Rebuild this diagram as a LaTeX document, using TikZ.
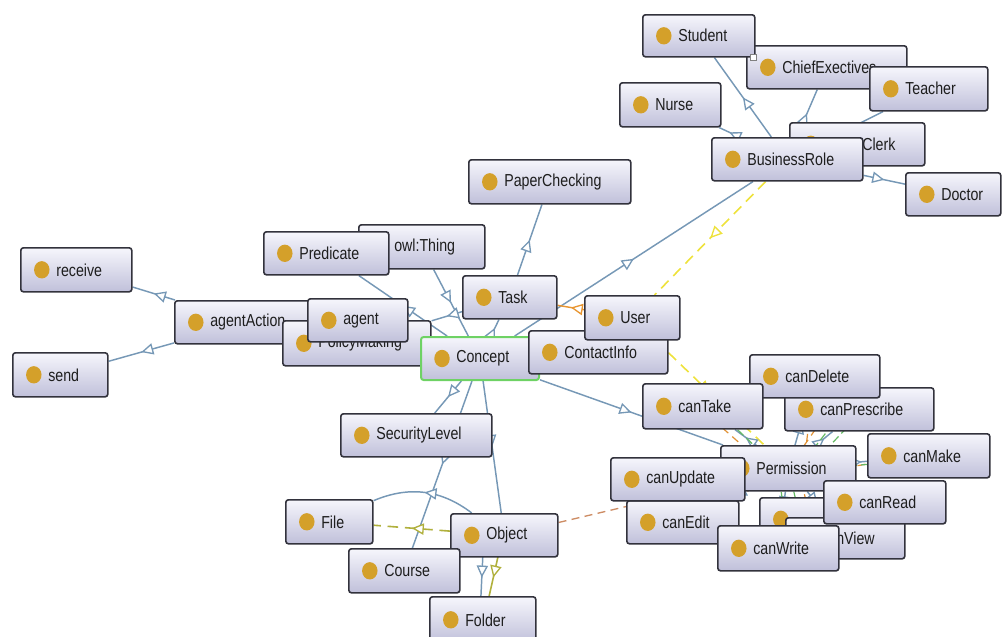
\documentclass[tikz,border=0pt]{standalone}
\usepackage{fontspec}
\setmainfont[FakeStretch=0.82]{Liberation Sans}
\usetikzlibrary{arrows.meta,decorations.markings,backgrounds,calc}
\definecolor{edgeblue}{RGB}{118,152,182}
\definecolor{nodeborder}{RGB}{50,50,60}
\definecolor{nodetop}{RGB}{246,246,252}
\definecolor{nodebot}{RGB}{192,192,218}
\definecolor{dotc}{RGB}{212,160,42}
\definecolor{conceptgreen}{RGB}{110,210,100}
\definecolor{yell}{RGB}{238,226,60}
\definecolor{orng}{RGB}{232,150,50}
\definecolor{olivec}{RGB}{176,176,60}
\definecolor{brwn}{RGB}{205,140,100}
\definecolor{grn}{RGB}{100,185,100}
\definecolor{txt}{RGB}{30,30,30}
\newcommand\onode[7][]{\node[cls,minimum width={(#5-#3)*0.75pt},minimum height={(#6-#4)*0.75pt},label={[lbl,xshift=27pt]west:#7},#1] (#2) at (#3,#4) {};}
\begin{document}
\begin{tikzpicture}[x=0.75pt,y=-0.75pt,
  cls/.style={draw=nodeborder, line width=1.2pt, rounded corners=2pt,
    top color=nodetop, bottom color=nodebot, inner sep=0pt, anchor=north west,
    path picture={\fill[dotc] ([xshift=15.75pt]path picture bounding box.west) ellipse (5.8pt and 6.5pt);}},
  lbl/.style={anchor=west, inner sep=0pt, font=\fontsize{13}{15}\selectfont, text=txt},
  midarrow/.style={postaction={decorate}, decoration={markings,
    mark=at position 0.5 with {\arrow{Triangle[fill=white,length=9pt,width=8.5pt,line width=1pt]}}}},
  edge/.style={draw=edgeblue, line width=1.1pt, midarrow},
  yedge/.style={draw=yell, line width=1.2pt, dash pattern=on 8pt off 5pt, midarrow},
  oedge/.style={draw=orng, line width=1.1pt, midarrow},
  gedge/.style={draw=olivec, line width=1.2pt, dash pattern=on 8pt off 5pt, midarrow},
  bdash/.style={draw=brwn, line width=1pt, dash pattern=on 6pt off 4pt},
  gdash/.style={draw=grn, line width=0.9pt, dash pattern=on 6pt off 3pt},
  odash/.style={draw=orng!80!brown, line width=0.9pt, dash pattern=on 6pt off 4pt}]
\useasboundingbox (0,0) rectangle (1002,636);
% nodes (bottom to top)
\onode{Chief}{746}{45}{906}{88}{ChiefExectives}
\onode{Student}{642}{14}{754}{56}{Student}
\node[draw=gray, fill=white, line width=0.5pt, minimum size=4.5pt, inner sep=0pt] (icon) at (753,57) {};
\onode{Teacher}{869}{66}{987}{110}{Teacher}
\onode{Nurse}{619}{82}{720}{126}{Nurse}
\onode{Clerk}{789}{122}{924}{165}{\hspace*{27.75pt}Clerk}
\onode{BusinessRole}{711}{137}{862}{180}{BusinessRole}
\onode{Doctor}{905}{172}{1000}{215}{Doctor}
\onode{PaperChecking}{468}{159}{630}{203}{PaperChecking}
\onode{owlThing}{358}{224}{484}{268}{owl:Thing}
\onode{Predicate}{263}{231}{388}{274}{Predicate}
\onode{receive}{20}{247}{131}{291}{receive}
\onode{agentAction}{174}{300}{320}{343}{agentAction}
\onode{PolicyMaking}{282}{320}{430}{365}{PolicyMaking}
\onode{agent}{307}{298}{407}{341}{agent}
\onode{send}{12}{352}{107}{396}{send}
\onode{Task}{462}{275}{556}{318}{Task}
\onode[draw=conceptgreen, line width=1.5pt]{Concept}{420}{336}{538}{379}{Concept}
\onode{ContactInfo}{528}{330}{667}{373}{ContactInfo}
\onode{User}{584}{295}{679}{339}{User}
\onode{canPrescribe}{784}{387}{933}{430}{canPrescribe}
\onode{canDelete}{749}{354}{879}{397}{canDelete}
\onode{canTake}{642}{383}{762}{428}{canTake}
\onode{canMake}{867}{433}{989}{477}{canMake}
\onode{Permission}{720}{445}{855}{490}{Permission}
\onode{canHidden}{759}{497}{860}{540}{}
\onode{canView}{785}{517}{904}{558}{canView}
\onode{canEdit}{626}{500}{738}{543}{canEdit}
\onode{canUpdate}{610}{457}{744}{500}{canUpdate}
\onode{canWrite}{717}{525}{838}{570}{canWrite}
\onode{canRead}{823}{480}{945}{523}{canRead}
\onode{SecurityLevel}{340}{413}{491}{456}{SecurityLevel}
\onode{File}{285}{499}{372}{543}{File}
\onode{Object}{450}{513}{557}{556}{Object}
\onode{Course}{348}{548}{459}{592}{Course}
\onode{Folder}{429}{596}{535}{642}{Folder}
% connectors
\begin{pgfonlayer}{background}
\draw[edge] (BusinessRole) -- (Student);
\draw[edge] (BusinessRole) -- (Chief);
\draw[edge] (BusinessRole) -- (Teacher);
\draw[edge] (BusinessRole) -- (Nurse);
\draw[edge] (BusinessRole) -- (Doctor);
\draw[edge] (Concept) -- (BusinessRole);
\draw[yedge] (BusinessRole) -- (User);
\draw[yedge] (User) -- (Permission);
\draw[oedge] (User) -- (Task);
\draw[edge] (Task) -- (PaperChecking);
\draw[edge] (owlThing) -- (Concept);
\draw[edge] (Concept) -- (Predicate);
\draw[edge] (Task) -- (PolicyMaking);
\draw[edge] (Concept) -- (Task);
\draw[edge] (agentAction) -- (receive);
\draw[edge] (agentAction) -- (send);
\draw[edge] (Concept) -- (Permission);
\draw[edge] (Concept) -- (SecurityLevel);
\draw[edge] (Concept) -- (Course);
\draw[edge] (Concept) -- (Object);
\draw[edge] (Object) to[bend right=30] (File);
\draw[gedge] (Object) -- (File);
\draw[edge] ([shift={(-20.5,0)}]Object.center) -- ([shift={(-3,0)}]Folder.center);
\draw[gedge, dash pattern=] ([shift={(-1.5,0)}]Object.center) -- ([shift={(1,0)}]Folder.center);
\draw[bdash] (Object) -- (Permission);
% permission cluster
\draw[edge] (Permission) -- (canTake);
\draw[edge] (Permission) -- (canDelete);
\draw[edge] (Permission) -- (canPrescribe);
\draw[edge] (Permission) -- (canMake);
\draw[edge] (Permission) -- (canUpdate);
\draw[edge] (Permission) -- (canEdit);
\draw[edge] (Permission) -- (canWrite);
\draw[edge] (Permission) -- (canRead);
\draw[edge] (Permission) -- (canView);
\draw[gdash] ([shift={(-10,0)}]Permission.center) -- ([shift={(10,0)}]canTake.center);
\draw[odash] ([shift={(-20,0)}]Permission.center) -- ([shift={(-5,0)}]canTake.center);
\draw[gdash] ([shift={(10,0)}]Permission.center) -- ([shift={(-15,0)}]canPrescribe.center);
\draw[odash] ([shift={(0,0)}]Permission.center) -- ([shift={(-30,0)}]canPrescribe.center);
\draw[gdash] ([shift={(20,0)}]Permission.center) -- ([shift={(5,0)}]canPrescribe.center);
\draw[odash] ([shift={(15,0)}]Permission.center) -- ([shift={(0,0)}]canDelete.center);
\draw[odash] ([shift={(30,5)}]Permission.center) -- ([shift={(-20,0)}]canMake.center);
\draw[gdash] ([shift={(25,0)}]Permission.center) -- ([shift={(-10,5)}]canMake.center);
\draw[gdash] ([shift={(-10,0)}]Permission.center) -- ([shift={(10,0)}]canWrite.center);
\draw[odash] ([shift={(-25,0)}]Permission.center) -- ([shift={(20,0)}]canEdit.center);
\draw[bdash] ([shift={(-15,0)}]Permission.center) -- ([shift={(30,0)}]canEdit.center);
\draw[gdash] ([shift={(0,0)}]Permission.center) -- ([shift={(-10,0)}]canHidden.center);
\draw[odash] ([shift={(10,0)}]Permission.center) -- ([shift={(0,0)}]canHidden.center);
\draw[gdash] ([shift={(25,0)}]Permission.center) -- ([shift={(-20,0)}]canRead.center);
\draw[odash] ([shift={(-30,0)}]Permission.center) -- ([shift={(0,0)}]canUpdate.center);
\end{pgfonlayer}
\end{tikzpicture}
\end{document}
